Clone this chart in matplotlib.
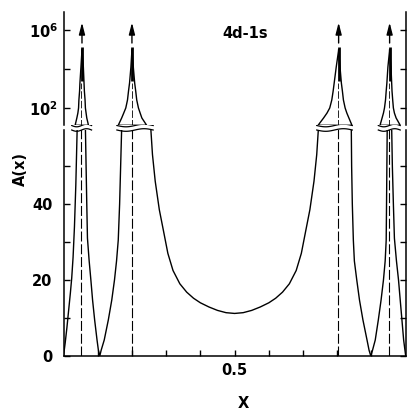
import matplotlib
matplotlib.use('Agg')
import matplotlib.pyplot as plt
import numpy as np
from matplotlib.transforms import blended_transform_factory

# positions of the singular points (dashed lines)
x_sing = [0.051, 0.201, 0.803, 0.952]
# x of the spike tips / arrows in the log part
x_tip = [0.054, 0.200, 0.804, 0.953]

# linear part, branch by branch
seg1_x = [0.0, 0.005, 0.010, 0.015, 0.020, 0.024, 0.028, 0.032, 0.036, 0.040]
seg1_a = [0, 3.5, 7.5, 12, 16.5, 20.5, 26, 34, 45, 60]
seg2_x = [0.064, 0.066, 0.068, 0.070, 0.075, 0.080, 0.085, 0.091, 0.098, 0.102, 0.106,
          0.110, 0.119, 0.131, 0.141, 0.149, 0.155, 0.160, 0.164, 0.167, 0.170]
seg2_a = [60, 50, 40, 31, 25, 20, 14.7, 9.5, 4.2, 1.5, 0,
          1.5, 4.2, 9.5, 14.7, 20, 25, 30.5, 40, 50, 60]
seg3_x = [0.255, 0.260, 0.268, 0.280, 0.292, 0.305, 0.320, 0.340, 0.360, 0.380, 0.400,
          0.425, 0.450, 0.475, 0.500, 0.525, 0.550, 0.575, 0.600, 0.620, 0.640, 0.660,
          0.680, 0.695, 0.708, 0.720, 0.732, 0.740, 0.745]
seg3_a = [60, 53, 46, 38.5, 33, 27, 22.5, 19, 16.8, 15.2, 14,
          12.9, 12.0, 11.4, 11.2, 11.4, 12.0, 12.9, 14, 15.2, 16.8, 19,
          22.5, 27, 33, 38.5, 46, 53, 60]
seg4_x = [0.841, 0.842, 0.844, 0.847, 0.850, 0.857, 0.865, 0.875, 0.887, 0.893, 0.898,
          0.903, 0.911, 0.920, 0.928, 0.935, 0.940, 0.943, 0.944, 0.945, 0.946]
seg4_a = [60, 50, 40, 30.5, 25, 20, 14.7, 9.5, 4.2, 1.5, 0,
          1.5, 4.2, 9.5, 14.7, 20, 25, 30.5, 40, 50, 60]
seg5_x = [0.959, 0.961, 0.964, 0.967, 0.973, 0.979, 0.984, 0.989, 0.994, 1.0]
seg5_a = [60, 50, 40, 31, 25, 20, 14.7, 9.5, 4.2, 0]

# log part: the four spikes, left/right branch at these A levels
spike_a = [13, 30.7, 55, 100, 257, 741, 1900, 12600, 93000]
spike1_l = [0.034, 0.039, 0.042, 0.044, 0.045, 0.047, 0.048, 0.051, 0.054]
spike1_r = [0.073, 0.068, 0.066, 0.064, 0.063, 0.061, 0.060, 0.058, 0.054]
spike2_l = [0.160, 0.170, 0.176, 0.182, 0.187, 0.190, 0.193, 0.197, 0.200]
spike2_r = [0.243, 0.229, 0.224, 0.219, 0.214, 0.211, 0.208, 0.204, 0.200]
spike3_l = [0.744, 0.760, 0.770, 0.778, 0.784, 0.788, 0.791, 0.797, 0.804]
spike3_r = [0.843, 0.834, 0.828, 0.823, 0.818, 0.815, 0.812, 0.808, 0.804]
spike4_l = [0.925, 0.931, 0.935, 0.938, 0.941, 0.943, 0.945, 0.948, 0.953]
spike4_r = [0.984, 0.972, 0.967, 0.964, 0.962, 0.960, 0.959, 0.957, 0.953]

# extent of the wavy break marks
break_lo = [0.024, 0.156, 0.740, 0.920]
break_hi = [0.082, 0.262, 0.844, 0.984]

x_ticks = [0.1, 0.2, 0.3, 0.4, 0.5, 0.6, 0.7, 0.8, 0.9]
x_ticklabels = ['', '', '', '', '0.5', '', '', '', '']
y_ticks = [0, 10, 20, 30, 40, 50]
y_ticklabels = ['0', '', '20', '', '40', '']
ylog_ticks = [1e2, 1e4, 1e6]
ylog_ticklabels = [r'$10^2$', '', r'$10^6$']

plt.rcParams['font.family'] = 'DejaVu Sans'
plt.rcParams['font.weight'] = 'bold'
plt.rcParams['font.size'] = 10.5
plt.rcParams['mathtext.default'] = 'bf'

W, H = 407, 409
def box(l, t, r, b):
	return [l / W, 1 - b / H, (r - l) / W, (b - t) / H]

fig = plt.figure(figsize=(W / 100, H / 100), dpi=100)
ax_bot = fig.add_axes(box(63.5, 129.5, 405.7, 356))
ax_top = fig.add_axes(box(63.5, 12, 405.7, 125))

lw = 1.0
for sx, sa in [(seg1_x, seg1_a), (seg2_x, seg2_a), (seg3_x, seg3_a), (seg4_x, seg4_a), (seg5_x, seg5_a)]:
	ax_bot.plot(sx, sa, color='black', lw=lw)
for xs in x_sing:
	ax_bot.plot([xs, xs], [0, 60], color='black', lw=0.8, ls=(0, (9, 2.5)))
	ax_top.plot([xs, xs], [10, 2000], color='black', lw=0.6, ls=(0, (9, 2.5)))

for sl, sr in [(spike1_l, spike1_r), (spike2_l, spike2_r), (spike3_l, spike3_r), (spike4_l, spike4_r)]:
	ax_top.plot(sl[::-1] + sr, spike_a[::-1] + spike_a, color='black', lw=lw)
for xt in x_tip:
	ax_top.plot([xt, xt], [2500, 10**5.13], color='black', lw=2.0, solid_capstyle='butt')
	ax_top.annotate('', xy=(xt, 10**6.38), xytext=(xt, 10**5.33),
		arrowprops=dict(arrowstyle='-|>,head_length=0.7,head_width=0.18', color='black',
			lw=1.0, mutation_scale=10, shrinkA=0, shrinkB=0))

# wavy break marks
trans = blended_transform_factory(ax_bot.transData, fig.transFigure)
t = np.linspace(0, 1, 40)
for lo, hi in zip(break_lo, break_hi):
	for ypx in [125.5, 130.0]:
		ax_bot.plot(lo + (hi - lo) * t, 1 - (ypx + 1.3 * np.sin(2 * np.pi * t)) / H,
			color='black', lw=0.9, transform=trans, clip_on=False)

ax_bot.set_xlim(0, 1)
ax_bot.set_ylim(0, 59.6)
ax_top.set_xlim(0, 1)
ax_top.set_yscale('log')
ax_top.set_ylim(10**1.128, 10**6.92)

for sp in ['left', 'right', 'bottom', 'top']:
	ax_bot.spines[sp].set_linewidth(1.1)
	ax_top.spines[sp].set_linewidth(1.1)
ax_bot.spines['top'].set_visible(False)
ax_top.spines['top'].set_visible(False)
ax_top.spines['bottom'].set_visible(False)

ax_bot.set_xticks(x_ticks)
ax_bot.set_xticklabels(x_ticklabels)
ax_bot.set_yticks(y_ticks)
ax_bot.set_yticklabels(y_ticklabels)
ax_bot.tick_params(direction='in', length=4, width=1.0, right=True)
ax_bot.tick_params(axis='y', pad=8)
ax_bot.tick_params(axis='x', pad=5)

ax_top.set_yticks(ylog_ticks)
ax_top.set_yticklabels(ylog_ticklabels)
ax_top.minorticks_off()
ax_top.tick_params(direction='in', length=4, width=1.0, right=True, pad=4)
ax_top.tick_params(axis='x', bottom=False, labelbottom=False)

fig.text(20 / W, 1 - 169 / H, 'A(x)', rotation=90, ha='center', va='center')
fig.text(243 / W, 1 - 403 / H, 'X', ha='center', va='center')
fig.text(245 / W, 1 - 33 / H, '4d-1s', ha='center', va='center')

fig.savefig('out.png', dpi=100)
